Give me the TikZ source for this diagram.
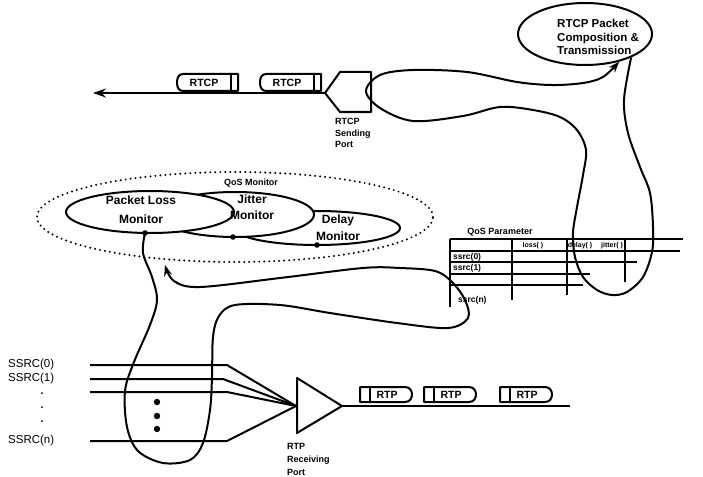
\documentclass[tikz,border=0pt]{standalone}
\usepackage{fontspec}
\setmainfont{Liberation Sans}
\usetikzlibrary{shapes.geometric,arrows.meta}
\begin{document}
\begin{tikzpicture}[x=1pt,y=-1pt,line join=round,
  ln/.style={line width=2pt},
  tbl/.style={line width=2.6pt},
  ell/.style={ellipse,draw,line width=2pt,fill=white,inner sep=0pt},
  montxt/.style={inner sep=0pt,align=center,font=\bfseries\fontsize{12}{16}\selectfont},
  small/.style={inner sep=0pt,align=left,font=\bfseries\fontsize{9}{11.5}\selectfont},
  pkt/.style={inner sep=0pt,font=\bfseries\fontsize{10.5}{12}\selectfont},
  ssrclab/.style={inner sep=0pt,anchor=west,font=\fontsize{11.5}{13}\selectfont},
  cell/.style={inner sep=0pt,anchor=west,font=\bfseries\fontsize{8.5}{10}\selectfont},
  hcell/.style={inner sep=0pt,font=\bfseries\fontsize{7}{8}\selectfont},
  arr/.style={-{Stealth[length=11pt,width=8pt]}}
]
\useasboundingbox[fill=white] (0,0) rectangle (703,476);

% ---------------- QoS monitor ----------------
\node[ellipse,draw,line width=2.2pt,dash pattern=on 0pt off 5pt,line cap=round,
      minimum width=396pt,minimum height=90pt,inner sep=0pt] (qosmon) at (235,217) {};
\node[small] (qoslab) at (251,183) {QoS Monitor};
\node[ell,minimum width=166pt,minimum height=34pt] (delay) at (317,228) {};
\node[ell,minimum width=158pt,minimum height=45pt] (jitter) at (235,214.5) {};
\node[ell,minimum width=168pt,minimum height=42pt] (ploss) at (150,212) {};
\node[montxt,font=\bfseries\fontsize{12}{19}\selectfont] (plosst) at (141,209.5) {Packet Loss\\Monitor};
\node[montxt] (jittert) at (252,207) {Jitter\\Monitor};
\node[montxt,font=\bfseries\fontsize{12}{17}\selectfont] (delayt) at (338,228) {Delay\\Monitor};
\coordinate (pldot) at (145,233);
\fill (pldot) circle (2.8pt);
\fill (233,237) circle (2.8pt);
\fill (317,245) circle (2.8pt);

% ---------------- QoS parameter table ----------------
\node[small] (qpar) at (500,232) {QoS Parameter};
\draw[tbl] (450,239) -- (683,239);
\draw[tbl] (450,251) -- (680,251);
\draw[tbl] (450,262) -- (637,262);
\draw[tbl] (450,274) -- (590,274);
\draw[tbl] (450,285) -- (583,285);
\draw[tbl] (450,239) -- (450,307);
\draw[tbl] (512,239) -- (512,300);
\draw[tbl] (567,239) -- (567,295);
\draw[tbl] (625,239) -- (625,282);
\node[hcell] (h1) at (533,245.5) {loss( )};
\node[hcell] (h2) at (580,245.5) {delay( )};
\node[hcell] (h3) at (612,245.5) {jitter( )};
\node[cell] (r0) at (453,257) {ssrc(0)};
\node[cell] (r1) at (453,268.5) {ssrc(1)};
\node[cell] (rn) at (458,300) {ssrc(n)};

% ---------------- Packet loss monitor loop ----------------
\coordinate (qarr) at (165,265);
\draw[ln,arr] plot[smooth,tension=0.55] coordinates {(pldot) (143,253) (152,277) (157,300) (150,325) (134,362) (125,391) (127,427) (138,451) (163,463) (190,460) (203,443) (210,410) (212,377) (213,337) (219,316) (235,305) (280,305) (330,313) (397,323) (448,328) (468,318) (465,300) (452,282) (435,271) (400,268) (363,268) (280,278) (200,287) (174,281) (qarr)};

% ---------------- RTCP composition ----------------
\node[ellipse,draw,line width=2pt,inner sep=0pt,minimum width=134pt,minimum height=62pt] (comp) at (585,34) {};
\node[inner sep=0pt,align=left,anchor=north west,font=\bfseries\fontsize{11.5}{13.5}\selectfont] (compt) at (557,19) {RTCP Packet\\Composition \&\\Transmission};

% ---------------- RTCP sending port ----------------
\coordinate (sendtip) at (325,93);
\coordinate (rtcpend) at (93,93);
\draw[ln,-{Stealth[length=13pt,width=9pt]}] (sendtip) -- (rtcpend);
\draw[ln,fill=white] (sendtip) -- (340,72) -- (371,72) -- (371,112) -- (340,112) -- cycle;
\node[small,anchor=north west] (sendlab) at (335,118.5) {RTCP\\Sending\\Port};

% RTCP packets
\foreach \xo/\nm in {177/ra,260/rb}{
  \draw[ln,fill=white] (\xo+6,74) -- (\xo+61,74) -- (\xo+61,91) -- (\xo+6,91)
     .. controls (\xo+1.5,91) and (\xo,87) .. (\xo,82.5)
     .. controls (\xo,78) and (\xo+1.5,74) .. (\xo+6,74) -- cycle;
  \draw[ln] (\xo+54,74) -- (\xo+54,91);
  \node[pkt] (\nm) at (\xo+27,83) {RTCP};
}

% big loop from composition through table and port
\draw[ln,arr] plot[smooth,tension=0.55] coordinates {(comp.-27) (624,100) (628,133) (640,167) (650,193) (653,227) (652,252) (643,277) (627,292) (612,295) (597,290) (583,277) (575,257) (573,233) (577,207) (583,175) (586,150) (577,130) (560,117) (533,110) (500,107) (463,116) (413,121) (380,108) (366,91) (380,75) (413,70) (467,72) (517,82) (552,85) (583,83) (603,77) (comp.-39)};

% ---------------- SSRC inputs and RTP receiving port ----------------
\coordinate (rtpin) at (296,406);
\coordinate (rtptip) at (342,406);
\coordinate (rtpend) at (570,406);
\draw[ln] (90,365) -- (227,365) -- (rtpin);
\draw[ln] (90,379) -- (223,379) -- (rtpin);
\draw[ln] (90,392) -- (227,392) -- (rtpin);
\draw[ln] (90,441) -- (227,441) -- (rtpin);
\draw[ln,fill=white] (297,378) -- (rtptip) -- (297,433) -- cycle;
\draw[ln] (rtptip) -- (rtpend);
\node[ssrclab] (s0) at (8,365) {SSRC(0)};
\node[ssrclab] (s1) at (8,379) {SSRC(1)};
\node[ssrclab] (sn) at (8,441) {SSRC(n)};
\foreach \yy in {393,407,421} \fill (42,\yy) circle (1pt);
\foreach \yy in {402,416,429} \fill (157,\yy) circle (3.2pt);
\node[small,anchor=north west,font=\bfseries\fontsize{9}{13}\selectfont] (reclab) at (287,443) {RTP\\Receiving\\Port};

% RTP packets
\foreach \xo/\nm in {360/pa,424/pb,500/pc}{
  \draw[ln,fill=white] (\xo,387) -- (\xo+45,387)
     .. controls (\xo+50,387) and (\xo+52,391) .. (\xo+52,394.5)
     .. controls (\xo+52,398) and (\xo+50,402) .. (\xo+45,402) -- (\xo,402) -- cycle;
  \draw[ln] (\xo+10,387) -- (\xo+10,402);
  \node[pkt] (\nm) at (\xo+27,395) {RTP};
}
\end{tikzpicture}
\end{document}
